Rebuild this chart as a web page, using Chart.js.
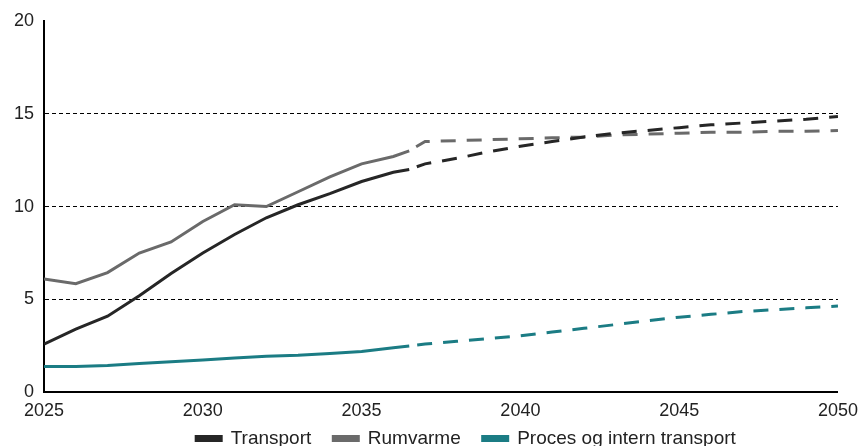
<!DOCTYPE html>
<html>
<head>
<meta charset="utf-8">
<script src="https://cdn.jsdelivr.net/npm/chart.js@4.4.1/dist/chart.umd.min.js"></script>
<style>
  html, body { margin: 0; padding: 0; background: #fff; overflow: hidden; }
  #wrap { width: 866px; height: 481px; position: relative; }
</style>
</head>
<body>
<div id="wrap"><canvas id="chart"></canvas></div>
<script>
// years (2036.5 = where the solid line turns into the dashed projection)
const years = [2025, 2026, 2027, 2028, 2029, 2030, 2031, 2032, 2033, 2034, 2035, 2036, 2036.5,
  2037, 2038, 2039, 2040, 2041, 2042, 2043, 2044, 2045, 2046, 2047, 2048, 2049, 2050];
const breakYear = 2036.5;

const transport = [2.6, 3.4, 4.1, 5.2, 6.4, 7.5, 8.5, 9.4, 10.1, 10.7, 11.35, 11.85, 12.0,
  12.3, 12.6, 12.95, 13.25, 13.5, 13.75, 13.95, 14.1, 14.25, 14.4, 14.5, 14.6, 14.7, 14.85];
const rumvarme = [6.1, 5.85, 6.45, 7.5, 8.1, 9.2, 10.1, 10.0, 10.8, 11.6, 12.3, 12.7, 13.0,
  13.5, 13.55, 13.6, 13.65, 13.7, 13.75, 13.85, 13.9, 13.95, 14.0, 14.0, 14.05, 14.05, 14.1];
const proces = [1.4, 1.4, 1.45, 1.55, 1.65, 1.75, 1.85, 1.95, 2.0, 2.1, 2.2, 2.4, 2.5,
  2.6, 2.75, 2.9, 3.05, 3.25, 3.45, 3.65, 3.85, 4.05, 4.2, 4.35, 4.45, 4.55, 4.65];

const seriesNames = ['Transport', 'Rumvarme', 'Proces og intern transport'];
const seriesColors = ['#262626', '#6a6a6a', '#1b7c84'];

const FONT = 'Liberation Sans, Arial, sans-serif';
const toPoints = vals => vals.map((v, i) => ({ x: years[i], y: v }));

const datasets = [transport, rumvarme, proces].map((vals, i) => ({
  label: seriesNames[i],
  data: toPoints(vals),
  borderColor: seriesColors[i],
  backgroundColor: seriesColors[i],
  borderWidth: 3,
  pointRadius: 0,
  tension: 0,
  segment: {
    borderDash: ctx => ctx.p0.parsed.x >= breakYear ? [15, 11] : undefined,
    borderDashOffset: ctx => ctx.p0.parsed.x >= breakYear ? 18 : 0,
  },
}));

// the legend in the reference sits a bit right of centre and close under the axis
const shiftLegend = {
  id: 'shiftLegend',
  afterLayout(chart) {
    const lg = chart.legend;
    lg.left += 35;
    lg.right += 35;
    lg.top -= 23;
    lg.bottom -= 23;
  },
};

new Chart(document.getElementById('chart'), {
  type: 'line',
  data: { datasets },
  plugins: [shiftLegend],
  options: {
    responsive: true,
    maintainAspectRatio: false,
    animation: false,
    layout: { padding: { top: 16, right: 8, left: 4, bottom: 0 } },
    plugins: {
      legend: {
        position: 'bottom',
        labels: {
          boxWidth: 25,
          boxHeight: 4,
          padding: 22,
          color: '#222',
          font: { family: FONT, size: 19 },
        },
      },
      tooltip: { enabled: false },
    },
    scales: {
      x: {
        type: 'linear',
        min: 2025,
        max: 2050,
        ticks: {
          stepSize: 5,
          color: '#222',
          padding: 8,
          font: { family: FONT, size: 18 },
          callback: v => String(v),
        },
        grid: { display: false, drawTicks: false },
        border: { color: '#000', width: 2 },
      },
      y: {
        min: 0,
        max: 20,
        ticks: {
          stepSize: 5,
          color: '#222',
          padding: 10,
          font: { family: FONT, size: 18 },
        },
        grid: {
          drawTicks: false,
          color: ctx => (ctx.tick.value === 0 || ctx.tick.value === 20) ? 'rgba(0,0,0,0)' : '#000',
          lineWidth: 1,
        },
        border: { color: '#000', width: 2, dash: [4, 3] },
      },
    },
  },
});
</script>
</body>
</html>
